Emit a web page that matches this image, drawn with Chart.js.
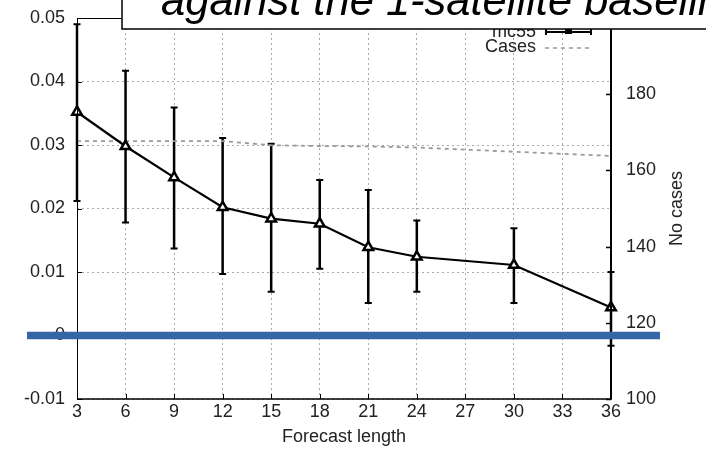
<!DOCTYPE html>
<html><head><meta charset="utf-8">
<script src="https://cdn.jsdelivr.net/npm/chart.js@4/dist/chart.umd.min.js"></script>
<style>html,body{margin:0;padding:0;background:#fff;}#wrap{width:706px;height:452px;position:relative;}</style>
</head><body><div id="wrap"><canvas id="c" width="706" height="452"></canvas></div>
<script>
const forecastLengths = [3, 6, 9, 12, 15, 18, 21, 24, 30, 36];
const meanValues  = [0.0352, 0.0298, 0.0249, 0.0202, 0.0184, 0.0176, 0.0139, 0.0124, 0.0111, 0.0044];
const upperValues = [0.0490, 0.0417, 0.0359, 0.0311, 0.0302, 0.0245, 0.0229, 0.0181, 0.0169, 0.0100];
const lowerValues = [0.0212, 0.0178, 0.0137, 0.0097, 0.0069, 0.0105, 0.0051, 0.0069, 0.0051, -0.0016];
const caseCounts  = [167.7, 167.7, 167.7, 167.7, 166.6, 166.4, 166.3, 166.0, 164.9, 163.8];
const xTitle = 'Forecast length';
const y2Title = 'No cases';
const chartTitle = 'against the 1-satellite baseline';
const seriesLabels = ['mc55', 'Cases'];

const FONT = 'Liberation Sans, Arial, sans-serif';
const TXT = '#222';

const errorBars = {
  id: 'errorBars',
  beforeDatasetsDraw(chart) {
    const ctx = chart.ctx, xs = chart.scales.x, ys = chart.scales.y;
    ctx.save();
    ctx.strokeStyle = '#000';
    forecastLengths.forEach((f, i) => {
      const x = xs.getPixelForValue(f);
      const yh = ys.getPixelForValue(upperValues[i]);
      const yl = ys.getPixelForValue(lowerValues[i]);
      ctx.lineWidth = 2.5;
      ctx.beginPath(); ctx.moveTo(x, yh); ctx.lineTo(x, yl); ctx.stroke();
      ctx.lineWidth = 2;
      ctx.beginPath();
      ctx.moveTo(x - 3.5, yh); ctx.lineTo(x + 3.5, yh);
      ctx.moveTo(x - 3.5, yl); ctx.lineTo(x + 3.5, yl);
      ctx.stroke();
    });
    ctx.restore();
  }
};

const decorations = {
  id: 'decorations',
  afterDraw(chart) {
    const ctx = chart.ctx, a = chart.chartArea;
    const xs = chart.scales.x, ys = chart.scales.y, y2 = chart.scales.y2;
    ctx.save();
    // frame
    ctx.strokeStyle = '#000';
    ctx.lineWidth = 1;
    ctx.beginPath(); ctx.moveTo(a.left + 0.5, a.top); ctx.lineTo(a.left + 0.5, a.bottom); ctx.stroke();
    ctx.beginPath(); ctx.moveTo(a.left, a.top + 0.5); ctx.lineTo(a.right, a.top + 0.5); ctx.stroke();
    ctx.lineWidth = 1.5;
    ctx.beginPath(); ctx.moveTo(a.left, a.bottom); ctx.lineTo(a.right + 1, a.bottom); ctx.stroke();
    ctx.lineWidth = 2;
    ctx.beginPath(); ctx.moveTo(a.right, a.top); ctx.lineTo(a.right, a.bottom); ctx.stroke();
    // inward ticks
    ctx.lineWidth = 1;
    ys.ticks.forEach(t => {
      const y = Math.round(ys.getPixelForValue(t.value)) + 0.5;
      ctx.beginPath(); ctx.moveTo(a.left, y); ctx.lineTo(a.left + 5, y); ctx.stroke();
    });
    ctx.lineWidth = 1.5;
    y2.ticks.forEach(t => {
      const y = Math.round(y2.getPixelForValue(t.value)) + 0.5;
      ctx.beginPath(); ctx.moveTo(a.right - 5, y); ctx.lineTo(a.right, y); ctx.stroke();
    });
    ctx.lineWidth = 1;
    xs.ticks.forEach(t => {
      const x = Math.round(xs.getPixelForValue(t.value)) + 0.5;
      ctx.beginPath(); ctx.moveTo(x, a.bottom - 5); ctx.lineTo(x, a.bottom); ctx.stroke();
      ctx.beginPath(); ctx.moveTo(x, a.top); ctx.lineTo(x, a.top + 5); ctx.stroke();
    });
    // legend
    const lx = a.right - 75;
    ctx.font = '18px ' + FONT;
    ctx.fillStyle = TXT;
    ctx.textAlign = 'right';
    ctx.textBaseline = 'middle';
    ctx.fillText(seriesLabels[0], lx, 32);
    ctx.fillText(seriesLabels[1], lx, 47);
    ctx.strokeStyle = '#999'; ctx.lineWidth = 1.5; ctx.setLineDash([4, 4]);
    ctx.beginPath(); ctx.moveTo(lx + 9, 48); ctx.lineTo(lx + 54, 48); ctx.stroke();
    ctx.setLineDash([]);
    ctx.strokeStyle = '#000'; ctx.lineWidth = 2;
    ctx.beginPath(); ctx.moveTo(lx + 10, 32); ctx.lineTo(lx + 55, 32);
    ctx.moveTo(lx + 10, 28); ctx.lineTo(lx + 10, 35);
    ctx.moveTo(lx + 55, 28); ctx.lineTo(lx + 55, 35); ctx.stroke();
    ctx.fillStyle = '#000'; ctx.fillRect(lx + 29, 29, 7, 5);
    // blue zero line
    const y0 = ys.getPixelForValue(0);
    ctx.fillStyle = '#3566a6';
    ctx.fillRect(a.left - 50, y0 - 3.75, (a.right - a.left) + 99, 7.5);
    // right axis title
    ctx.fillStyle = TXT;
    ctx.font = '18px ' + FONT;
    ctx.textAlign = 'center';
    ctx.textBaseline = 'middle';
    ctx.translate(a.right + 66, (a.top + a.bottom) / 2);
    ctx.rotate(-Math.PI / 2);
    ctx.fillText(y2Title, 0, 0);
    ctx.setTransform(1, 0, 0, 1, 0, 0);
    // title box
    ctx.fillStyle = '#fff';
    ctx.fillRect(122, -5, 620, 34);
    ctx.strokeStyle = '#000'; ctx.lineWidth = 1.5;
    ctx.strokeRect(122, -5, 620, 34);
    ctx.fillStyle = '#000';
    ctx.font = 'italic 43.5px ' + FONT;
    ctx.textAlign = 'left';
    ctx.textBaseline = 'alphabetic';
    ctx.fillText(chartTitle, 161, 15);
    ctx.restore();
  }
};

const gridOpts = { color: '#aaa', lineWidth: 1, drawTicks: false };
const tickFont = { family: FONT, size: 18 };
const noPad = s => { s.paddingTop = 0; s.paddingBottom = 0; };

new Chart(document.getElementById('c'), {
  type: 'line',
  data: {
    datasets: [
      {
        label: seriesLabels[0],
        data: forecastLengths.map((f, i) => ({ x: f, y: meanValues[i] })),
        yAxisID: 'y',
        borderColor: '#000', borderWidth: 2.2,
        pointStyle: 'triangle', pointRadius: 5.5,
        pointBackgroundColor: '#fff', pointBorderColor: '#000', pointBorderWidth: 2.5,
        tension: 0, clip: false
      },
      {
        label: seriesLabels[1],
        data: forecastLengths.map((f, i) => ({ x: f, y: caseCounts[i] })),
        yAxisID: 'y2',
        borderColor: '#999', borderWidth: 1.8, borderDash: [4, 4],
        pointRadius: 0, tension: 0
      }
    ]
  },
  options: {
    responsive: false, animation: false, devicePixelRatio: 1,
    layout: { padding: { top: 18, left: 0, right: 0, bottom: 0 } },
    plugins: { legend: { display: false }, tooltip: { enabled: false }, title: { display: false } },
    scales: {
      x: {
        type: 'linear', min: 3, max: 36,
        ticks: { stepSize: 3, font: tickFont, color: TXT, padding: 2, maxRotation: 0 },
        grid: gridOpts, border: { display: false, dash: [2, 3] },
        title: { display: true, text: xTitle, font: tickFont, color: TXT, padding: { top: 0, bottom: 4 } },
        afterFit: s => { s.height = 53; s.paddingLeft = 0; s.paddingRight = 0; }
      },
      y: {
        position: 'left', min: -0.01, max: 0.05,
        ticks: { stepSize: 0.01, font: tickFont, color: TXT, padding: 12,
                 callback: v => String(parseFloat(Number(v).toFixed(3))) },
        grid: gridOpts, border: { display: false, dash: [2, 3] },
        afterFit: s => { s.width = 77; noPad(s); }
      },
      y2: {
        position: 'right', min: 100, max: 200,
        ticks: { stepSize: 20, font: tickFont, color: TXT, padding: 15,
                 callback: v => (v >= 200 ? '' : String(v)) },
        grid: { drawOnChartArea: false, drawTicks: false },
        border: { display: false },
        afterFit: s => { s.width = 95; noPad(s); }
      }
    }
  },
  plugins: [errorBars, decorations]
});
</script>
</body></html>
